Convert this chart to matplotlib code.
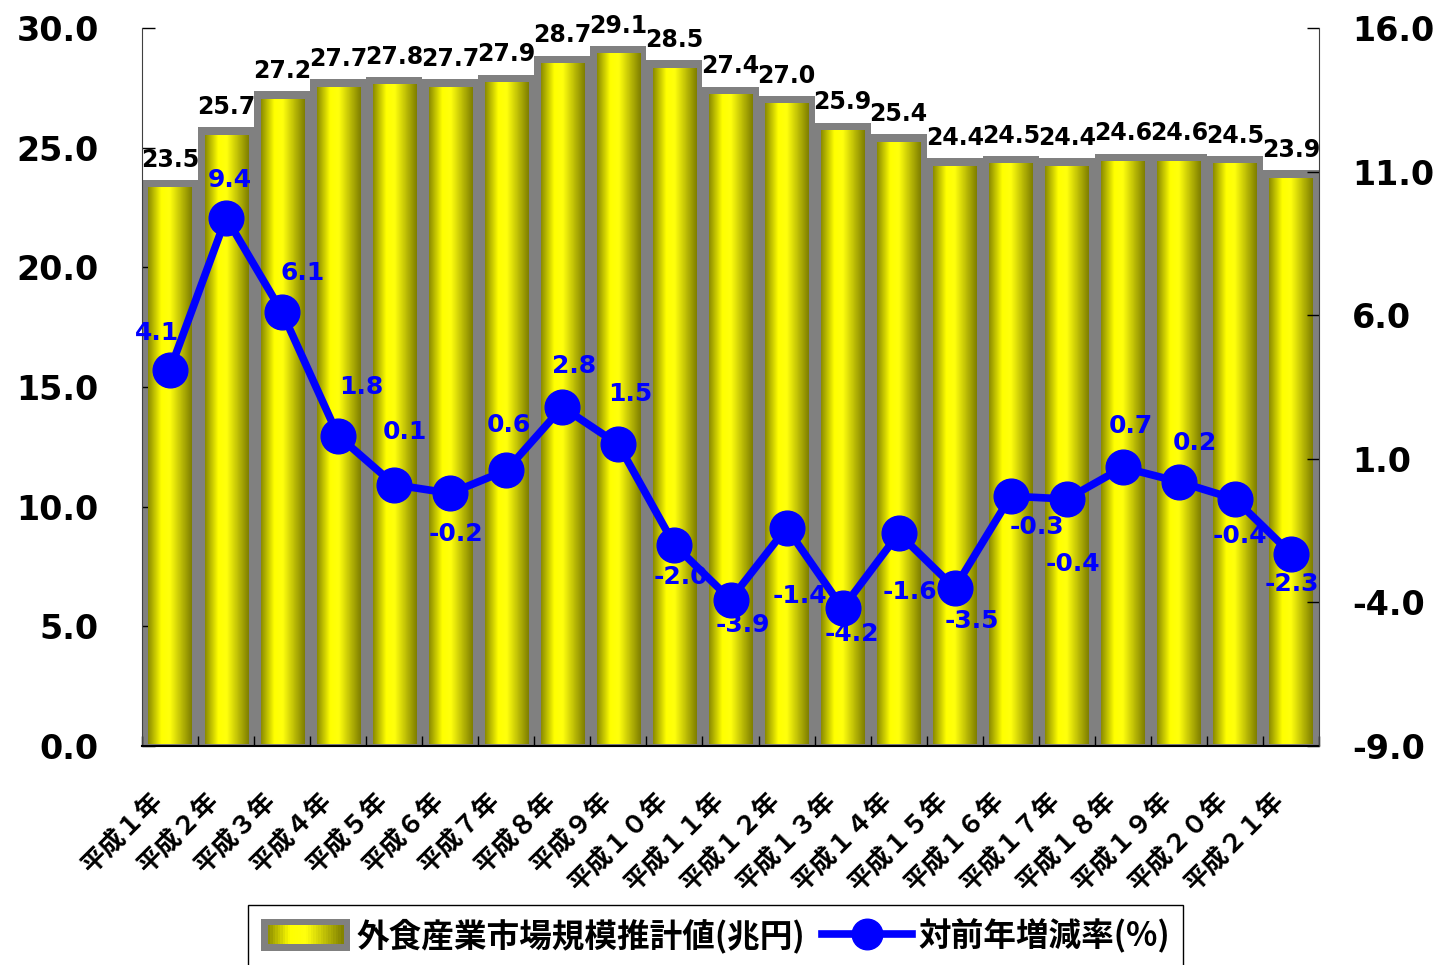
import numpy as np
import matplotlib
matplotlib.use('Agg')
import matplotlib.pyplot as plt
from matplotlib.colors import LinearSegmentedColormap
from matplotlib.patches import Rectangle
from matplotlib.lines import Line2D
from matplotlib.legend_handler import HandlerBase
from matplotlib.transforms import ScaledTranslation

# data
years = ['平成１年', '平成２年', '平成３年', '平成４年', '平成５年', '平成６年', '平成７年',
         '平成８年', '平成９年', '平成１０年', '平成１１年', '平成１２年', '平成１３年',
         '平成１４年', '平成１５年', '平成１６年', '平成１７年', '平成１８年', '平成１９年',
         '平成２０年', '平成２１年']
market = [23.5, 25.7, 27.2, 27.7, 27.8, 27.7, 27.9, 28.7, 29.1, 28.5, 27.4,
          27.0, 25.9, 25.4, 24.4, 24.5, 24.4, 24.6, 24.6, 24.5, 23.9]
rate = [4.1, 9.4, 6.1, 1.8, 0.1, -0.2, 0.6, 2.8, 1.5, -2.0, -3.9,
        -1.4, -4.2, -1.6, -3.5, -0.3, -0.4, 0.7, 0.2, -0.4, -2.3]
left_ticks = [0, 5, 10, 15, 20, 25, 30]
right_ticks = [-9, -4, 1, 6, 11, 16]
bar_label = '外食産業市場規模推計値(兆円)'
line_label = '対前年増減率(%)'

# label offsets (pixels) for the rate values
rate_offsets = [(-13, 37), (4, 38), (20, 39), (23, 49), (11, 53), (6, -41), (3, 45),
                (12, 41), (12, 50), (6, -32), (12, -25), (13, -68), (9, -26), (11, -59),
                (17, -33), (26, -31), (6, -65), (8, 41), (16, 39), (5, -37), (1, -30)]

cjk = ['Noto Sans CJK JP', 'DejaVu Sans']
grad_cmap = LinearSegmentedColormap.from_list(
    'cyl', [(0.0, (0.55, 0.55, 0.0)), (0.3, (1, 1, 0)), (0.5, (1, 1, 0.05)),
            (1.0, (0.5, 0.5, 0.0))])

fig = plt.figure(figsize=(14.42, 9.65), dpi=100)
ax = fig.add_axes([0.0985, 0.2269, 0.8162, 0.7441])
x = np.arange(len(market))
mk = np.array(market)

ax.bar(x, mk + 0.15, width=1.0, color='#808080', zorder=1)
inner = ax.bar(x, mk - 0.26, bottom=0.08, width=0.77, color='none', zorder=2)
grad = np.linspace(0, 1, 64).reshape(1, -1)
for p in inner:
    x0, y0, w, h = p.get_x(), p.get_y(), p.get_width(), p.get_height()
    ax.imshow(grad, extent=(x0, x0 + w, y0, y0 + h), aspect='auto', cmap=grad_cmap,
              zorder=2, interpolation='bilinear')

for xi, v in zip(x, market):
    ax.annotate(f'{v:.1f}', (xi, v), xytext=(0, 24), textcoords='offset pixels',
                ha='center', va='center', fontsize=17, fontweight='bold', color='black',
                zorder=5)

ax.set_xlim(-0.5, len(market) - 0.5)
ax.set_ylim(0, 30)
ax.set_yticks(left_ticks)
ax.set_yticklabels([f'{t:.1f}' for t in left_ticks])
ax.tick_params(axis='y', direction='in', length=9, width=1, labelsize=24, pad=31)
for t in ax.get_yticklabels():
    t.set_fontweight('bold')

ax.set_xticks(x)
ax.set_xticklabels(years)
ax.set_xticks(np.arange(-0.5, len(market)), minor=True)
ax.tick_params(axis='x', which='major', length=0, pad=36)
ax.tick_params(axis='x', which='minor', direction='in', length=7, width=1)
off = ScaledTranslation(-8 / 72, 0, fig.dpi_scale_trans)
for t in ax.get_xticklabels():
    t.set_rotation(45)
    t.set_ha('right')
    t.set_va('center')
    t.set_rotation_mode('anchor')
    t.set_family(cjk)
    t.set_fontweight('bold')
    t.set_fontsize(18.5)
    t.set_transform(t.get_transform() + off)

ax.spines['top'].set_visible(False)
ax.spines['right'].set_visible(False)
ax.spines['left'].set_color('#404040')
ax.spines['bottom'].set_color('black')
ax.spines['bottom'].set_linewidth(1.5)

ax2 = ax.twinx()
ax2.plot(x, rate, color='#0000FF', lw=5.5, marker='o', ms=25, zorder=3)
for xi, v, (dx, dy) in zip(x, rate, rate_offsets):
    ax2.annotate(f'{v:.1f}', (xi, v), xytext=(dx, dy), textcoords='offset pixels',
                 ha='center', va='center', fontsize=18, fontweight='bold', color='#0000FF',
                 zorder=6)
ax2.set_ylim(-9, 16)
ax2.set_yticks(right_ticks)
ax2.set_yticklabels([f'{t:.1f}' for t in right_ticks])
ax2.tick_params(axis='y', direction='in', length=9, width=1, labelsize=24, pad=24)
for t in ax2.get_yticklabels():
    t.set_fontweight('bold')
ax2.spines['top'].set_visible(False)
ax2.spines['left'].set_visible(False)
ax2.spines['bottom'].set_visible(False)
ax2.spines['right'].set_color('#404040')


class GradientBarHandler(HandlerBase):
    def create_artists(self, legend, orig_handle, xdescent, ydescent, width, height,
                       fontsize, trans):
        arts = [Rectangle((-xdescent, -ydescent - 0.1 * height), width, height * 1.2,
                          facecolor='#808080', edgecolor='none', transform=trans)]
        n = 30
        ix0 = -xdescent + 0.08 * width
        iw = 0.84 * width
        for i in range(n):
            arts.append(Rectangle((ix0 + iw * i / n, -ydescent + 0.15 * height),
                                  iw / n + 0.3, height * 0.7,
                                  facecolor=grad_cmap((i + 0.5) / n), edgecolor='none',
                                  transform=trans))
        return arts


bar_proxy = Rectangle((0, 0), 1, 1)
line_proxy = Line2D([], [], color='#0000FF', lw=5.5, marker='o', ms=22)
leg = fig.legend([bar_proxy, line_proxy], [bar_label, line_label],
                 handler_map={Rectangle: GradientBarHandler()},
                 loc='upper center', bbox_to_anchor=(0.496, 0.062), ncol=2,
                 prop={'family': cjk, 'weight': 'bold', 'size': 23.5},
                 frameon=True, fancybox=False, edgecolor='black', framealpha=1,
                 handlelength=2.75, handleheight=0.9, handletextpad=0.2,
                 columnspacing=0.5, borderpad=0.4, borderaxespad=0)
leg.get_frame().set_linewidth(1.0)

fig.savefig('out.png', dpi=100)
